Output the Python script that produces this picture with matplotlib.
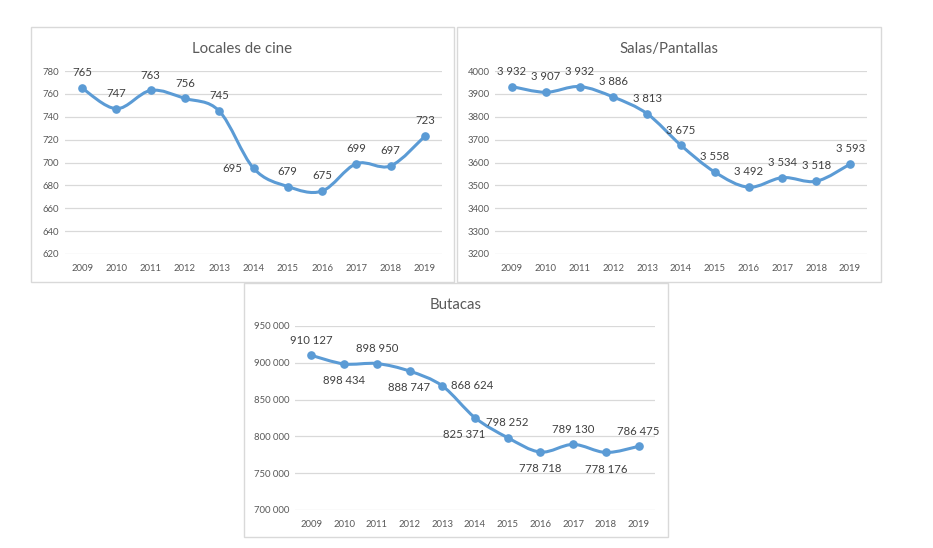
import matplotlib
matplotlib.use("Agg")
import matplotlib.pyplot as plt
from matplotlib.path import Path
from matplotlib.patches import PathPatch, Rectangle
import numpy as np

plt.rcParams['font.family'] = ['Lato', 'DejaVu Sans']

years = ['2009', '2010', '2011', '2012', '2013', '2014', '2015', '2016', '2017', '2018', '2019']
locales = [765, 747, 763, 756, 745, 695, 679, 675, 699, 697, 723]
salas = [3932, 3907, 3932, 3886, 3813, 3675, 3558, 3492, 3534, 3518, 3593]
butacas = [910127, 898434, 898950, 888747, 868624, 825371, 798252, 778718, 789130, 778176, 786475]

# label placement (style): 'a' above, 'b' below, 'l' left, 'r' right, 'bl' below-left
pos_locales = ['a', 'a', 'a', 'a', 'a', 'l', 'a', 'a', 'a', 'a', 'a']
pos_salas = ['a'] * 11
pos_butacas = ['a', 'b', 'a', 'b', 'r', 'bl', 'a', 'b', 'a', 'b', 'a']

LINE = '#5B9BD5'
TICK = '#595959'
LAB = '#404040'
GRID = '#D9D9D9'

W, H = 933, 548
fig = plt.figure(figsize=(W / 100, H / 100), dpi=100)


def fx(px):
    return px / W


def fy(py):
    return 1 - py / H


def fmt(v):
    return f"{v:,}".replace(",", " ")


def smooth_path(xs, ys):
    pts = np.column_stack([xs, ys]).astype(float)
    n = len(pts)
    verts = [pts[0]]
    codes = [Path.MOVETO]
    for i in range(n - 1):
        p0 = pts[i - 1] if i > 0 else pts[i]
        p1 = pts[i]
        p2 = pts[i + 1]
        p3 = pts[i + 2] if i + 2 < n else pts[i + 1]
        c1 = p1 + (p2 - p0) / 6.0
        c2 = p2 - (p3 - p1) / 6.0
        verts += [c1, c2, p2]
        codes += [Path.CURVE4] * 3
    return Path(verts, codes)


def panel(box, axbox, title, values, ylim, ystep, positions, tickfmt):
    bx0, by0, bx1, by1 = box
    fig.patches.append(Rectangle((fx(bx0), fy(by1)), fx(bx1 - bx0), (by1 - by0) / H,
                                 transform=fig.transFigure, facecolor='none',
                                 edgecolor=GRID, linewidth=1.0, zorder=-1))
    ax0, ay0, ax1, ay1 = axbox
    ax = fig.add_axes([fx(ax0), fy(ay1), fx(ax1 - ax0), (ay1 - ay0) / H])
    ax.set_facecolor('none')
    x = np.arange(len(years))
    ax.add_patch(PathPatch(smooth_path(x, values), facecolor='none', edgecolor=LINE,
                           linewidth=2.2, capstyle='round', joinstyle='round', zorder=3))
    ax.plot(x, values, linestyle='none', marker='o', markersize=5.2, color=LINE, zorder=4)
    ax.set_xlim(-0.5, len(years) - 0.5)
    ax.set_ylim(*ylim)
    ticks = np.arange(ylim[0], ylim[1] + ystep / 2, ystep)
    ax.set_yticks(ticks)
    ax.set_yticklabels([tickfmt(t) for t in ticks])
    ax.set_xticks(x)
    ax.set_xticklabels(years)
    ax.tick_params(axis='both', length=0, labelsize=6.8, colors=TICK)
    ax.tick_params(axis='x', pad=7)
    ax.tick_params(axis='y', pad=4)
    for s in ax.spines.values():
        s.set_visible(False)
    ax.yaxis.grid(True, color=GRID, linewidth=0.9)
    ax.set_axisbelow(True)
    offs = {'a': (0, 11, 'center', 'center'), 'b': (0, -12, 'center', 'center'),
            'l': (-8, 0, 'right', 'center'), 'r': (6, 0, 'left', 'center'),
            'bl': (-8, -12, 'center', 'center')}
    for xi, v, p in zip(x, values, positions):
        dx, dy, ha, va = offs[p]
        ax.annotate(fmt(v), (xi, v), xytext=(dx, dy), textcoords='offset points',
                    ha=ha, va=va, fontsize=8.2, color=LAB, zorder=5)
    fig.text(fx((bx0 + bx1) / 2), fy(title[1]), title[0], ha='center', va='center',
             fontsize=10.8, color=TICK)
    return ax


panel((31, 27, 454, 282), (65, 71, 442, 254), ("Locales de cine", 49), locales,
      (620, 780), 20, pos_locales, lambda t: f"{int(t)}")
panel((457, 27, 881, 282), (495, 71, 867, 254), ("Salas/Pantallas", 49), salas,
      (3200, 4000), 100, pos_salas, lambda t: f"{int(t)}")
panel((244, 283, 668, 537), (295, 326, 655, 510), ("Butacas", 305), butacas,
      (700000, 950000), 50000, pos_butacas, lambda t: fmt(int(t)))

fig.savefig('out.png', dpi=100, facecolor='white')
